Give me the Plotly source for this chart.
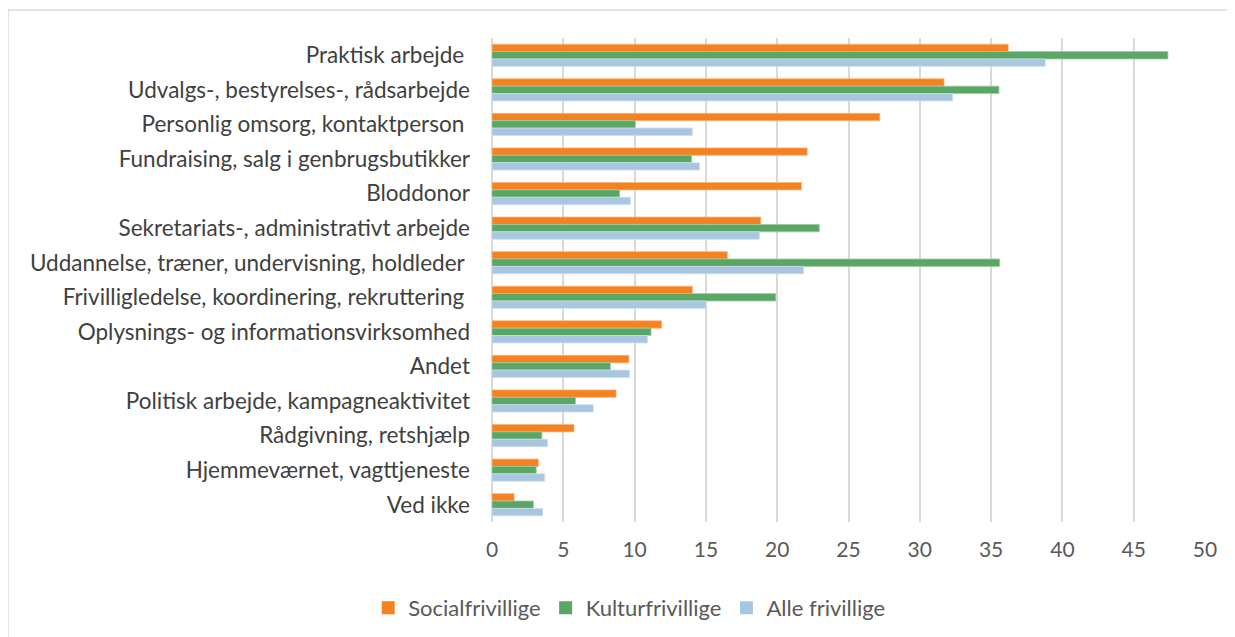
import plotly.graph_objects as go

categories = [
    "Praktisk arbejde\u00a0",
    "Udvalgs-, bestyrelses-, rådsarbejde",
    "Personlig omsorg, kontaktperson\u00a0",
    "Fundraising, salg i genbrugsbutikker",
    "Bloddonor",
    "Sekretariats-, administrativt arbejde",
    "Uddannelse, træner, undervisning, holdleder\u00a0",
    "Frivilligledelse, koordinering, rekruttering\u00a0",
    "Oplysnings- og informationsvirksomhed",
    "Andet",
    "Politisk arbejde, kampagneaktivitet",
    "Rådgivning, retshjælp",
    "Hjemmeværnet, vagttjeneste",
    "Ved ikke",
]
social = [36.2, 31.7, 27.2, 22.1, 21.7, 18.85, 16.5, 14.05, 11.9, 9.6, 8.7, 5.75, 3.25, 1.55]
kultur = [47.4, 35.55, 10.05, 14.0, 8.95, 22.95, 35.6, 19.9, 11.15, 8.3, 5.85, 3.5, 3.1, 2.9]
alle = [38.8, 32.3, 14.05, 14.55, 9.7, 18.75, 21.85, 15.0, 10.9, 9.65, 7.1, 3.9, 3.7, 3.55]
x_ticks = [0, 5, 10, 15, 20, 25, 30, 35, 40, 45, 50]

FONT = "Lato"
fig = go.Figure()
series = [
    ("Socialfrivillige", social, "#F58220", "#F9B27A"),
    ("Kulturfrivillige", kultur, "#5AA664", "#9ACBA0"),
    ("Alle frivillige", alle, "#A9C6E0", "#CCDDED"),
]
for name, vals, col, edge in series:
    fig.add_trace(go.Bar(
        y=categories, x=vals, name=name, orientation="h", showlegend=False,
        marker=dict(color=col, line=dict(color=edge, width=0.8)),
    ))
# legend-only square markers (larger than plotly's default bar swatch)
for name, vals, col, edge in series:
    fig.add_trace(go.Scatter(
        x=[None], y=[None], name=name, mode="markers",
        marker=dict(symbol="square", size=13, color=col),
    ))

# page body has an 8px margin, so the figure is shifted by 8px right/down
fig.update_layout(
    width=1235, height=637,
    barmode="group", bargap=0.36, bargroupgap=0,
    paper_bgcolor="white", plot_bgcolor="white",
    margin=dict(l=484, r=38, t=30, b=123),
    font=dict(family=FONT, size=22, color="#404040"),
    showlegend=True,
    legend=dict(orientation="h", xref="container", yref="container",
                x=0.503, xanchor="center", y=0.058, yanchor="middle",
                font=dict(family=FONT, size=22, color="#595959"),
                traceorder="normal", itemwidth=30),
    xaxis=dict(range=[0, 50], tickvals=x_ticks, showgrid=True,
               gridcolor="#D9D9D9", gridwidth=1.5, zeroline=True,
               zerolinecolor="#D9D9D9", zerolinewidth=1.5,
               showline=False, ticks="", ticklabelstandoff=13,
               tickfont=dict(family=FONT, size=21, color="#595959")),
    yaxis=dict(autorange="reversed", showgrid=False, ticks="",
               ticklabelstandoff=21, showline=False,
               tickfont=dict(family=FONT, size=22.5, color="#404040")),
    shapes=[dict(type="rect", xref="paper", yref="paper",
                 x0=(8 - 492) / 713, x1=1.2, y0=-0.5, y1=(522 - 10) / 484,
                 line=dict(color="#D9D9D9", width=1.5), layer="below")],
)
fig.write_html("out.html")
